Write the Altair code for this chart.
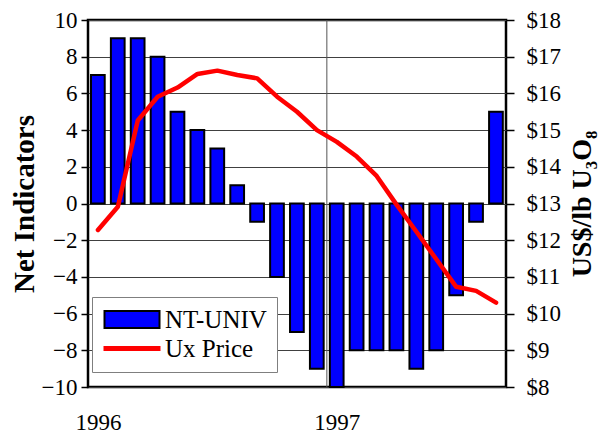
import altair as alt
import pandas as pd

# ---- data ----
months = ["1996-01", "1996-02", "1996-03", "1996-04", "1996-05", "1996-06",
          "1996-07", "1996-08", "1996-09", "1996-10", "1996-11", "1996-12",
          "1997-01", "1997-02", "1997-03", "1997-04", "1997-05", "1997-06",
          "1997-07", "1997-08", "1997-09"]
nt_univ = [7, 9, 9, 8, 5, 4, 3, 1, -1, -4, -7, -9, -10, -8, -8, -8, -9, -8, -5, -1, 5]
ux_price = [12.28, 12.91, 15.26, 15.91, 16.16, 16.53, 16.62, 16.50, 16.41, 15.91,
            15.50, 15.00, 14.68, 14.28, 13.75, 12.97, 12.23, 11.48, 10.73, 10.62, 10.30]
series_names = ["NT-UNIV", "Ux Price"]
left_ticks = list(range(-10, 11, 2))
right_ticks = list(range(8, 19))

FONT = "Liberation Serif, Times New Roman, DejaVu Serif, serif"

df = pd.DataFrame({"month": months, "idx": list(range(len(months))),
                   "nt": nt_univ, "price": ux_price})
df["year"] = df["month"].str[:4]

year_first = df[df["month"].str.endswith("-01")]
tick_vals = [float(i) + 0.5 for i in year_first["idx"]]
label_map = {float(i) + 0.5: y for i, y in zip(year_first["idx"], year_first["year"])}
label_expr = " : ".join(
    [f"datum.value == {k} ? '{v}'" for k, v in label_map.items()] + ["''"])
boundary_df = year_first[year_first["idx"] > 0][["idx"]]

x_scale = alt.Scale(domain=[0, len(months)], nice=False, zero=False)
x_axis = alt.Axis(values=tick_vals, labelExpr=label_expr, title=None, ticks=False,
                  domain=False, grid=False, labelFont=FONT, labelFontSize=23,
                  labelColor="black", labelPadding=24, labelFlush=False)

rule = alt.Chart(boundary_df).mark_rule(color="#555555", strokeWidth=1).encode(
    x=alt.X("idx:Q", scale=x_scale, axis=x_axis)
)

bars = alt.Chart(df).transform_calculate(
    x0="datum.idx + 0.15", x1="datum.idx + 0.84"
).mark_bar(color="#0000FF", stroke="black", strokeWidth=2).encode(
    x=alt.X("x0:Q", scale=x_scale, axis=x_axis),
    x2="x1:Q",
    y=alt.Y("nt:Q", scale=alt.Scale(domain=[-10, 10], nice=False),
            axis=alt.Axis(values=left_ticks, title="Net Indicators",
                          titleFont=FONT, titleFontSize=29, titleFontWeight="bold",
                          titleColor="black", titlePadding=2,
                          labelFont=FONT, labelFontSize=23, labelColor="black",
                          labelPadding=4, tickSize=7, tickColor="black", tickWidth=1.5,
                          domain=False, grid=True, gridColor="#404040", gridWidth=1.2)),
    y2=alt.datum(0),
)

line = alt.Chart(df).transform_calculate(xm="datum.idx + 0.5").mark_line(
    color="#FF0000", strokeWidth=4.5, strokeCap="round", strokeJoin="round"
).encode(
    x=alt.X("xm:Q", scale=x_scale, axis=x_axis),
    y=alt.Y("price:Q", scale=alt.Scale(domain=[8, 18], nice=False, zero=False),
            axis=alt.Axis(orient="right", values=right_ticks,
                          labelExpr="'$' + datum.value",
                          title="US$/lb U\u2083O\u2088", titleAngle=270,
                          titleFont=FONT, titleFontSize=28, titleFontWeight="bold",
                          titleColor="black", titlePadding=36,
                          labelFont=FONT, labelFontSize=23, labelColor="black",
                          labelPadding=12, tickSize=8, tickColor="black", tickWidth=1.5,
                          domain=False, grid=False)),
)

rect_path = "M-1,-0.85H4.5V0.85H-1Z"
line_path = "M-1,-0.15H4.5V0.15H-1Z"
leg = alt.Legend(title=None, orient="none", legendX=4, legendY=277,
                 direction="vertical", fillColor="white", strokeColor="#7f7f7f",
                 padding=10, labelFont=FONT, labelFontSize=25, labelColor="black",
                 symbolSize=400, symbolStrokeWidth=2, rowPadding=3, labelOffset=38)

legend_layer = alt.Chart(pd.DataFrame({"series": series_names})).transform_filter(
    "false"
).mark_point(filled=True, opacity=1).encode(
    color=alt.Color("series:N", scale=alt.Scale(domain=series_names,
                                                range=["#0000FF", "#FF0000"]), legend=leg),
    stroke=alt.Stroke("series:N", scale=alt.Scale(domain=series_names,
                                                  range=["#000000", "#FF0000"]), legend=leg),
    shape=alt.Shape("series:N", scale=alt.Scale(domain=series_names,
                                                range=[rect_path, line_path]), legend=leg),
)

chart = alt.layer(rule, bars, line, legend_layer).resolve_scale(
    y="independent"
).properties(
    width=418, height=367,
    autosize=alt.AutoSizeParams(type="none"),
    padding={"left": 80, "top": 12, "right": 100, "bottom": 46},
    background="white",
).configure_view(stroke="black", strokeWidth=2.5)

chart.save("out.html", embed_options={"renderer": "svg", "actions": False})
